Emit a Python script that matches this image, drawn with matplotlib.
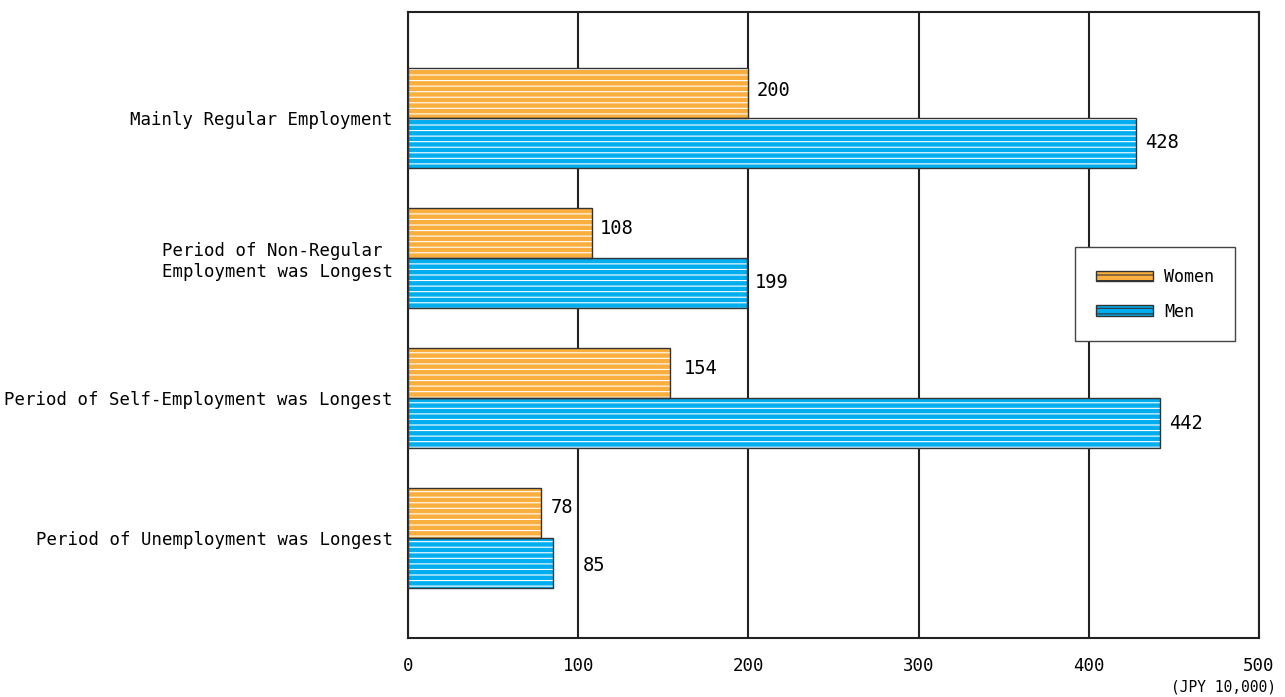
import numpy as np
import matplotlib.pyplot as plt
from matplotlib.patches import Patch

plt.rcParams['font.family'] = ['DejaVu Sans Mono', 'DejaVu Sans']
plt.rcParams['hatch.linewidth'] = 0.8
plt.rcParams['hatch.color'] = 'white'

categories = ['Mainly Regular Employment',
              'Period of Non-Regular \nEmployment was Longest',
              'Period of Self-Employment was Longest',
              'Period of Unemployment was Longest']
women = [200, 108, 154, 78]
men = [428, 199, 442, 85]
xticks = [0, 100, 200, 300, 400, 500]

orange = '#F9AE3D'
blue = '#00AEEF'
edge = '#333333'

fig = plt.figure(figsize=(12.85, 6.97), dpi=100)
ax = fig.add_axes([408/1285, 1-638/697, (1259-408)/1285, (638-12)/697])

y = np.arange(len(categories))
h = 0.357

# fill with white hatch, then outline on top
ax.barh(y - h/2, women, height=h, color=orange, hatch='---', edgecolor='white', linewidth=0, zorder=3)
ax.barh(y + h/2, men, height=h, color=blue, hatch='---', edgecolor='white', linewidth=0, zorder=3)
ax.barh(y - h/2, women, height=h, fill=False, edgecolor=edge, linewidth=1, zorder=4)
ax.barh(y + h/2, men, height=h, fill=False, edgecolor=edge, linewidth=1, zorder=4)

# label nudges in points (x, y)
nudge_w = [(6, 1.5), (6, 3.5), (10, 3.5), (7, 4)]
nudge_m = [(6, 0), (6, 0), (6, 0), (22, -1.5)]
for i in range(len(categories)):
    ax.annotate(str(women[i]), (women[i], y[i] - h/2), xytext=nudge_w[i],
                textcoords='offset points', va='center', ha='left', fontsize=13.5)
    ax.annotate(str(men[i]), (men[i], y[i] + h/2), xytext=nudge_m[i],
                textcoords='offset points', va='center', ha='left', fontsize=13.5)

ax.set_xlim(0, 500)
ax.set_ylim(3.714, -0.757)
ax.set_xticks(xticks)
ax.set_xticklabels([str(t) for t in xticks], fontsize=12.5)
ax.set_yticks(y)
ax.set_yticklabels(categories, fontsize=12.5)
ax.tick_params(axis='x', length=0, pad=14)
ax.tick_params(axis='y', length=0, pad=11)
ax.grid(axis='x', color='#222222', linewidth=1.5, zorder=0)
for s in ax.spines.values():
    s.set_linewidth(1.5)
    s.set_color('#222222')

ax.text(1.02, -0.066, '(JPY 10,000)', transform=ax.transAxes, ha='right', va='top', fontsize=10.5)

handles = [Patch(facecolor=orange, edgecolor=edge, hatch='---', label='Women'),
           Patch(facecolor=blue, edgecolor=edge, hatch='---', label='Men')]
leg = ax.legend(handles=handles, loc='upper left', bbox_to_anchor=(0.784, 0.6246),
                fontsize=12, handlelength=3.4, handleheight=0.6, handletextpad=0.7,
                fancybox=False, borderpad=1.25, labelspacing=1.0, borderaxespad=0,
                framealpha=1, edgecolor='#444444')
leg.get_frame().set_linewidth(1)

plt.savefig('out.png', dpi=100)
